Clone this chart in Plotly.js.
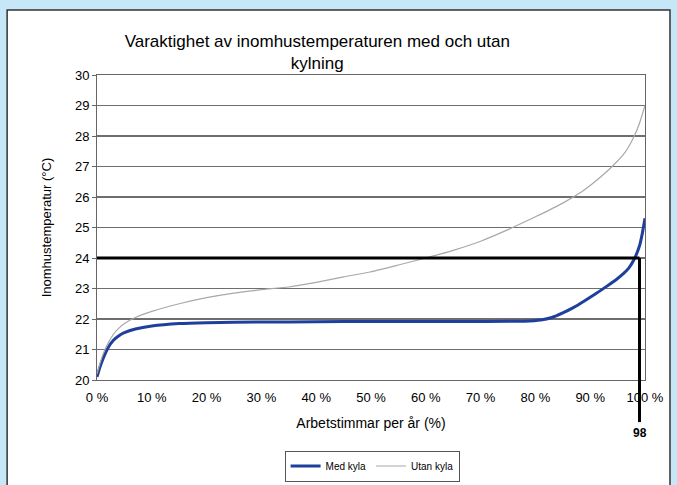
<!DOCTYPE html>
<html>
<head>
<meta charset="utf-8">
<script src="https://cdn.plot.ly/plotly-3.0.1.min.js"></script>
<style>html,body{margin:0;padding:0;background:#c6e7f8;}#chart{width:677px;height:485px;}</style>
</head>
<body>
<div id="chart"></div>
<script>
// Share of working hours per year (%)
const medX = [0, 0.5, 1, 2, 3, 4, 5, 7, 10, 15, 20, 30, 40, 50, 60, 70, 78, 81, 83, 85, 87, 89, 91, 93, 95, 96, 97, 98, 99, 99.5, 100];
const medY = [20.1, 20.4, 20.65, 21.05, 21.3, 21.45, 21.55, 21.67, 21.77, 21.85, 21.88, 21.9, 21.91, 21.92, 21.92, 21.92, 21.93, 21.97, 22.05, 22.2, 22.38, 22.6, 22.83, 23.07, 23.33, 23.48, 23.66, 23.95, 24.4, 24.8, 25.3];
const utanX = [0, 1, 2, 3, 4, 5, 7, 10, 15, 20, 25, 30, 35, 40, 45, 50, 55, 60, 65, 70, 75, 80, 85, 88, 90, 92, 94, 96, 97, 98, 99, 100];
const utanY = [20.2, 20.8, 21.2, 21.5, 21.7, 21.85, 22.05, 22.25, 22.5, 22.7, 22.85, 22.96, 23.05, 23.2, 23.38, 23.55, 23.77, 24.0, 24.25, 24.55, 24.93, 25.35, 25.8, 26.12, 26.38, 26.67, 27.0, 27.38, 27.64, 27.98, 28.42, 29.0];
const seriesNames = ["Med kyla", "Utan kyla"];
const chartTitle = "Varaktighet av inomhustemperaturen med och utan<br>kylning";
const xTitle = "Arbetstimmar per år (%)";
const yTitle = "Inomhustemperatur (°C)";
const limitTemp = 24;
const limitPct = 99;
const limitLabel = "98";

const font = "'Liberation Sans', Arial, sans-serif";

const traces = [
  {x: medX, y: medY, name: seriesNames[0], mode: "lines", line: {color: "#1f3f9c", width: 3, shape: "spline", smoothing: 0.5}},
  {x: utanX, y: utanY, name: seriesNames[1], mode: "lines", line: {color: "#a8a8a8", width: 1.2, shape: "spline", smoothing: 0.5}}
];

const layout = {
  width: 677, height: 485,
  margin: {l: 97, r: 32, t: 75, b: 105},
  paper_bgcolor: "#c6e7f8",
  plot_bgcolor: "rgba(0,0,0,0)",
  font: {family: font, size: 13, color: "#000"},
  showlegend: true,
  title: {text: chartTitle, x: 0.402, xref: "paper", xanchor: "center", y: 0.904, yref: "container", yanchor: "middle", font: {size: 17, family: font, color: "#000"}},
  xaxis: {
    range: [0, 100], dtick: 10, ticksuffix: " %", ticks: "", showgrid: false, zeroline: false,
    showline: true, linecolor: "#666", linewidth: 1, mirror: true,
    tickfont: {size: 13}, automargin: false, ticklabelstandoff: 5,
    title: {text: xTitle, font: {size: 14}, standoff: 14}
  },
  yaxis: {
    range: [20, 30], dtick: 1, ticks: "outside", ticklen: 4, tickcolor: "#666",
    showgrid: true, gridcolor: "#6e6e6e", gridwidth: 1.3, zeroline: false,
    showline: true, linecolor: "#666", linewidth: 1, mirror: true,
    tickfont: {size: 13}, automargin: false,
    title: {text: yTitle, font: {size: 13}, standoff: 20}
  },
  legend: {
    orientation: "h", x: 0.502, xanchor: "center", xref: "paper",
    y: 1 - 466 / 485, yref: "container", yanchor: "middle",
    bgcolor: "#fff", bordercolor: "#555", borderwidth: 1, font: {size: 10},
    itemwidth: 30, tracegroupgap: 0
  },
  shapes: [
    {type: "rect", xref: "paper", yref: "paper", x0: -0.164, x1: 1.0456, y0: -0.4, y1: 1.213,
     fillcolor: "#ffffff", line: {color: "#333", width: 1.5}, layer: "below"},
    {type: "line", xref: "x", yref: "y", x0: 0, x1: limitPct, y0: limitTemp, y1: limitTemp,
     line: {color: "#000", width: 3}},
    {type: "line", xref: "x", yref: "paper", x0: limitPct, x1: limitPct, y0: (limitTemp - 20) / 10, y1: -0.138,
     line: {color: "#000", width: 3}}
  ],
  annotations: [
    {text: "<b>" + limitLabel + "</b>", x: limitPct, xref: "x", y: -0.174, yref: "paper", showarrow: false,
     xanchor: "center", yanchor: "middle", font: {size: 12, family: font, color: "#000"}}
  ]
};

Plotly.newPlot("chart", traces, layout, {displayModeBar: false, staticPlot: true});
</script>
</body>
</html>
